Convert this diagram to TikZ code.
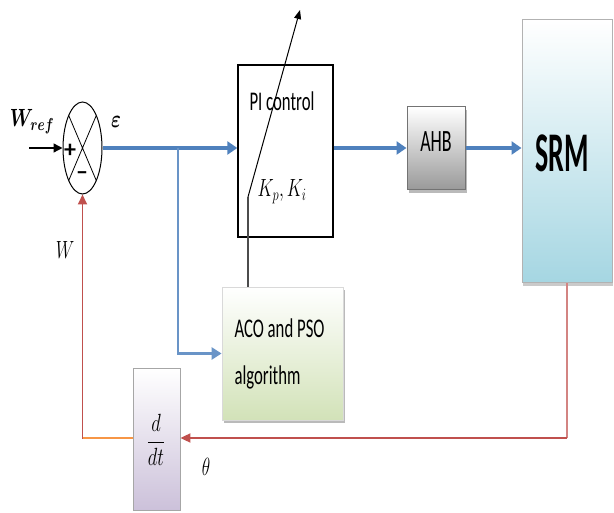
\documentclass[tikz,border=0pt]{standalone}
\usepackage{amsmath}
\usepackage{amssymb}
\usepackage{bm}
\usepackage{fontspec}
\setmainfont{Carlito}
\usepackage{graphicx}
\usetikzlibrary{shapes.geometric,arrows.meta,shadows}
\definecolor{lblue}{RGB}{79,129,189}
\definecolor{lred}{RGB}{192,80,77}
\definecolor{lorange}{RGB}{247,150,70}
\newcommand{\sq}[2][0.65]{\scalebox{#1}[1]{#2}}
\begin{document}
\begin{tikzpicture}[x=1pt,y=-1pt,
  blk/.style={draw, rectangle, inner sep=0pt},
  bluearrow/.style={draw=lblue, line width=3.2pt, -{Triangle[length=10pt,width=13pt]}},
  bluel/.style={draw=lblue!85, line width=2.6pt},
  redarrow/.style={draw=lred, line width=1.8pt, -{Triangle[length=10pt,width=9pt]}},
  shad/.style={drop shadow={shadow xshift=2pt, shadow yshift=-3pt, opacity=0.45, fill=black!60}},
  txt/.style={font=\fontsize{27}{29}\selectfont}
]
\useasboundingbox (0,0) rectangle (614,513);

% summing junction
\node[draw, ellipse, line width=1pt, minimum width=39pt, minimum height=92pt, inner sep=0pt,
  path picture={\draw[line width=0.8pt] (path picture bounding box.north west) -- (path picture bounding box.south east)
                 (path picture bounding box.north east) -- (path picture bounding box.south west);}]
  (sum) at (82.5,148) {};
\node[font=\fontsize{24}{26}\selectfont\bfseries] (plus) at (70,151) {+};
\node[font=\fontsize{24}{26}\selectfont\bfseries] (minus) at (82,176) {--};

% blocks
\node[blk, line width=1.4pt, fill=white, minimum width=95pt, minimum height=172pt] (pi) at (285.5,151) {};
\node[txt] (pitxt) at (282,101) {\sq[0.62]{PI control}};
\node[font=\fontsize{26}{28}\selectfont] (ktxt) at (282,192) {\sq[0.72]{$K_p, K_i$}};

\node[blk, draw=black!55, line width=1pt, top color=white, bottom color=black!40, shad,
  minimum width=58pt, minimum height=83pt] (ahb) at (436,148.5) {};
\node[font=\fontsize{31}{33}\selectfont] (ahbtxt) at (436,142) {\sq[0.58]{AHB}};

\node[blk, draw=black!30, line width=1pt, top color=white, bottom color={rgb,255:red,165;green,214;blue,226},
  drop shadow={shadow xshift=1pt, shadow yshift=-3pt, opacity=0.35, fill=black!60},
  minimum width=90pt, minimum height=263pt] (srm) at (567,151.5) {};
\node[font=\fontsize{56}{58}\selectfont\bfseries] (srmtxt) at (562,153) {\sq[0.5]{SRM}};

\node[blk, draw=black!15, line width=0.8pt, top color=white, bottom color={rgb,255:red,210;green,226;blue,184}, shad,
  minimum width=121pt, minimum height=133pt] (aco) at (282.5,353.5) {};
\node[txt, anchor=west] (acotxt1) at (231,328) {\sq[0.62]{ACO and PSO}};
\node[txt, anchor=west] (acotxt2) at (231,377) {\sq[0.62]{algorithm}};

\node[blk, draw=black!35, line width=0.8pt, top color=white, bottom color={rgb,255:red,204;green,193;blue,218},
  minimum width=47pt, minimum height=142pt] (ddt) at (156.5,439) {};
\node[font=\fontsize{28}{30}\selectfont] (ddttxt) at (156,440) {\sq[0.75]{$\dfrac{d}{dt}$}};

% labels
\node[font=\fontsize{24}{26}\selectfont] (wref) at (32,122) {\sq[0.75]{$\bm{W_{ref}}$}};
\node[font=\fontsize{30}{32}\selectfont] (eps) at (116,122) {\sq[0.75]{$\bm{\varepsilon}$}};
\node[font=\fontsize{24}{26}\selectfont] (wlab) at (65,250) {\sq[0.7]{$W$}};
\node[font=\fontsize{24}{26}\selectfont] (th) at (206,467) {\sq[0.7]{$\theta$}};

% coordinates
\coordinate (in) at (29,148);
\coordinate (br) at (178,148);
\coordinate (kp) at (248,197);
\coordinate (tip) at (300,10);
\coordinate (srmb) at (567,438);
\coordinate (corner) at (82.5,439);

% connectors
\draw[line width=1.4pt, -{Triangle[length=9pt,width=9pt]}] (in) -- (sum.west);
\draw[bluearrow] (sum.east) -- (sum.east -| pi.west);
\draw[bluel, -{Triangle[length=10pt,width=12pt]}] (br) |- (aco.west);
\draw[bluearrow] (pi.east |- sum.east) -- (ahb.west |- sum.east);
\draw[bluearrow] (ahb.east |- sum.east) -- (srm.west |- sum.east);
\draw[draw=lred!70, line width=1.4pt] (srm.south) -- (srmb);
\draw[redarrow] (srmb) -- (ddt.east |- srmb);
\draw[draw=lorange, line width=2.4pt] (ddt.west |- srmb) -- (corner |- srmb);
\draw[redarrow] (corner) -- (sum.south);
\draw[draw=black!70, line width=1.2pt] (aco.north -| kp) -- (kp);
\draw[line width=1pt, -{Triangle[length=9pt,width=7pt]}] (kp) -- (tip);
\end{tikzpicture}
\end{document}
